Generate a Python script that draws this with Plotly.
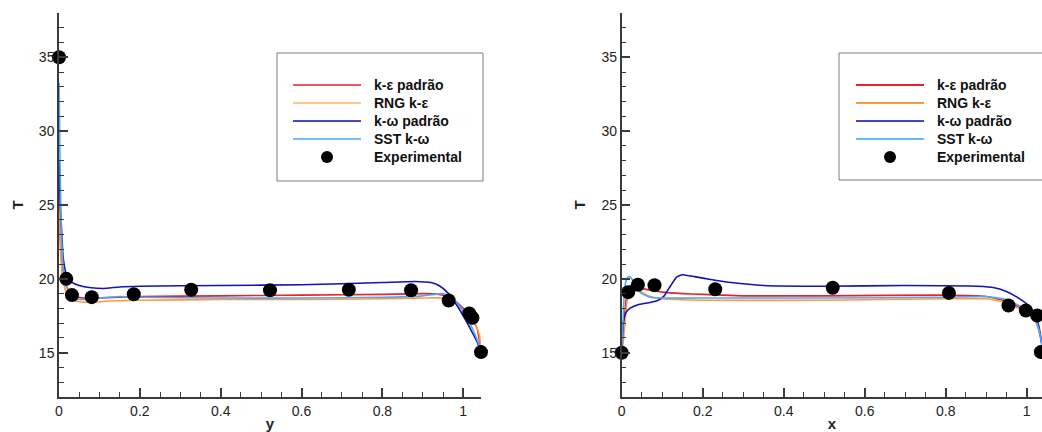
import plotly.graph_objects as go

# ---------------- data: left panel (T vs y) ----------------
ly_ke = [0, 0.003, 0.006, 0.01, 0.015, 0.02, 0.03, 0.04, 0.06, 0.1, 0.2, 0.4, 0.6, 0.8, 0.9, 0.94, 0.96, 0.98, 1.0, 1.02, 1.035, 1.044]
lT_ke = [26.0, 23.0, 21.2, 20.2, 19.7, 19.4, 19.0, 18.8, 18.7, 18.7, 18.8, 18.85, 18.9, 18.95, 19.0, 18.95, 18.8, 18.5, 18.0, 17.4, 16.6, 15.0]

ly_rng = [0, 0.003, 0.006, 0.01, 0.015, 0.02, 0.03, 0.05, 0.08, 0.12, 0.2, 0.4, 0.6, 0.8, 0.9, 0.95, 0.97, 0.99, 1.01, 1.03, 1.04, 1.044]
lT_rng = [26.3, 22.5, 21.0, 20.0, 19.3, 19.0, 18.6, 18.45, 18.4, 18.5, 18.55, 18.6, 18.6, 18.65, 18.7, 18.7, 18.5, 18.1, 17.6, 16.9, 16.2, 15.0]

ly_kw = [0, 0.002, 0.004, 0.006, 0.01, 0.015, 0.02, 0.03, 0.05, 0.08, 0.11, 0.15, 0.2, 0.4, 0.6, 0.8, 0.88, 0.92, 0.94, 0.96, 0.98, 1.0, 1.02, 1.035, 1.044]
lT_kw = [28.0, 26.0, 24.5, 23.5, 21.5, 20.6, 20.1, 19.8, 19.55, 19.4, 19.35, 19.45, 19.5, 19.55, 19.6, 19.75, 19.82, 19.75, 19.55, 19.1, 18.4, 17.5, 16.5, 15.7, 15.0]

ly_sst = [0, 0.002, 0.004, 0.006, 0.01, 0.015, 0.02, 0.03, 0.04, 0.06, 0.1, 0.15, 0.2, 0.4, 0.6, 0.8, 0.9, 0.95, 0.97, 0.99, 1.01, 1.025, 1.038, 1.044]
lT_sst = [33.3, 29.0, 25.5, 23.0, 21.0, 19.9, 19.4, 18.9, 18.65, 18.6, 18.7, 18.8, 18.75, 18.7, 18.7, 18.75, 18.85, 19.0, 18.8, 18.2, 17.3, 16.5, 15.6, 15.0]

ly_exp = [0, 0.018, 0.032, 0.081, 0.185, 0.327, 0.522, 0.717, 0.871, 0.964, 1.015, 1.023, 1.044]
lT_exp = [35.0, 20.0, 18.9, 18.76, 18.96, 19.26, 19.23, 19.26, 19.23, 18.53, 17.66, 17.36, 15.04]

# ---------------- data: right panel (T vs x) ----------------
rx_ke = [0, 0.004, 0.008, 0.012, 0.02, 0.03, 0.05, 0.08, 0.1, 0.15, 0.2, 0.3, 0.5, 0.8, 0.9, 0.95, 0.98, 1.0, 1.02, 1.03, 1.038]
rT_ke = [15.0, 16.5, 17.8, 18.8, 19.5, 19.6, 19.35, 19.2, 19.1, 19.0, 18.95, 18.85, 18.85, 18.9, 18.8, 18.5, 18.1, 17.8, 17.3, 16.6, 15.5]

rx_rng = [0, 0.004, 0.008, 0.012, 0.02, 0.03, 0.05, 0.07, 0.1, 0.2, 0.5, 0.8, 0.9, 0.95, 0.98, 1.0, 1.02, 1.03, 1.038]
rT_rng = [15.0, 15.8, 17.0, 18.2, 19.3, 19.5, 19.1, 18.8, 18.65, 18.55, 18.55, 18.65, 18.65, 18.4, 18.0, 17.7, 17.2, 16.5, 15.5]

rx_kw = [0, 0.002, 0.005, 0.01, 0.02, 0.04, 0.07, 0.09, 0.105, 0.12, 0.135, 0.15, 0.18, 0.22, 0.27, 0.35, 0.5, 0.7, 0.88, 0.92, 0.95, 0.98, 1.0, 1.02, 1.03, 1.038]
rT_kw = [15.0, 16.2, 17.2, 17.7, 18.0, 18.25, 18.4, 18.55, 18.85, 19.5, 20.1, 20.28, 20.15, 19.95, 19.75, 19.55, 19.5, 19.55, 19.5, 19.4, 19.15, 18.7, 18.3, 17.6, 16.8, 15.5]

rx_sst = [0, 0.003, 0.006, 0.01, 0.015, 0.02, 0.03, 0.04, 0.05, 0.07, 0.1, 0.2, 0.5, 0.8, 0.9, 0.95, 0.98, 1.0, 1.02, 1.03, 1.038]
rT_sst = [15.0, 17.0, 18.8, 19.8, 20.1, 20.15, 19.8, 19.3, 19.0, 18.75, 18.7, 18.7, 18.7, 18.75, 18.8, 18.6, 18.2, 17.9, 17.3, 16.6, 15.5]

rx_exp = [0, 0.016, 0.04, 0.081, 0.231, 0.521, 0.808, 0.955, 0.998, 1.026, 1.035]
rT_exp = [15.0, 19.1, 19.6, 19.57, 19.3, 19.4, 19.05, 18.2, 17.86, 17.52, 15.04]

series_names = ["k-ε padrão", "RNG k-ε", "k-ω padrão", "SST k-ω", "Experimental"]
series_colors = ["#e4232b", "#ff9a3c", "#1414b0", "#4aa8ff"]
left_legend_colors = ["#e4232b", "#ffb469", "#0c0ca8", "#4aa8ff"]
right_legend_colors = ["#e4232b", "#ff9a3c", "#4646c4", "#66b8ff"]

W, H = 1042, 432
ML, MR, MT, MB = 59, 0, 13, 35
PW, PH = W - ML - MR, H - MT - MB


def px(xp):
    return (xp - ML) / PW


def py(yp):
    return (H - MB - yp) / PH


fig = go.Figure()

left_lines = [(ly_ke, lT_ke), (ly_rng, lT_rng), (ly_kw, lT_kw), (ly_sst, lT_sst)]
right_lines = [(rx_ke, rT_ke), (rx_rng, rT_rng), (rx_kw, rT_kw), (rx_sst, rT_sst)]

for (xs, ys), c, n in zip(left_lines, series_colors, series_names):
    fig.add_trace(go.Scatter(x=xs, y=ys, mode="lines", name=n, showlegend=False,
                             line=dict(color=c, width=1.6, shape="spline", smoothing=0.4),
                             xaxis="x", yaxis="y"))
fig.add_trace(go.Scatter(x=ly_exp, y=lT_exp, mode="markers", name="Experimental", showlegend=False,
                         marker=dict(color="black", size=14), cliponaxis=False,
                         xaxis="x", yaxis="y"))

for (xs, ys), c, n in zip(right_lines, series_colors, series_names):
    fig.add_trace(go.Scatter(x=xs, y=ys, mode="lines", name=n, showlegend=False,
                             line=dict(color=c, width=1.6, shape="spline", smoothing=0.4),
                             xaxis="x2", yaxis="y2"))
fig.add_trace(go.Scatter(x=rx_exp, y=rT_exp, mode="markers", name="Experimental", showlegend=False,
                         marker=dict(color="black", size=14), cliponaxis=False,
                         xaxis="x2", yaxis="y2"))

axis_color = "#3a3a3a"
tick_font = dict(family="Liberation Sans, Arial, sans-serif", size=14, color="#222222")
title_font = dict(family="Liberation Sans, Arial, sans-serif", size=15, color="#222222", weight="bold")


def xax(domain, rng, title):
    return dict(domain=domain, range=rng, tickmode="linear", tick0=0, dtick=0.2,
                ticks="inside", ticklen=9, tickwidth=1.5, tickcolor=axis_color,
                minor=dict(ticks="inside", dtick=0.05, ticklen=5, tickwidth=1.2, tickcolor=axis_color, showgrid=False),
                showline=True, linecolor=axis_color, linewidth=1.5,
                showgrid=False, zeroline=False, tickfont=tick_font,
                title=dict(text=title, font=title_font, standoff=2))


def yax(anchor, title):
    return dict(domain=[0, 1], range=[12, 38], anchor=anchor, tickmode="linear", tick0=0, dtick=5,
                ticks="inside", ticklen=9, tickwidth=1.5, tickcolor=axis_color,
                minor=dict(ticks="inside", dtick=1, ticklen=5, tickwidth=1.2, tickcolor=axis_color, showgrid=False),
                showline=True, linecolor=axis_color, linewidth=1.5,
                showgrid=False, zeroline=False, tickfont=tick_font,
                title=dict(text=title, font=title_font, standoff=12))


left_x_end = (481 - ML) / PW
right_x_start = (621.7 - ML) / PW

fig.update_layout(
    width=W, height=H,
    margin=dict(l=ML, r=MR, t=MT, b=MB),
    paper_bgcolor="white", plot_bgcolor="white",
    showlegend=False,
    xaxis=xax([0, left_x_end], [0, 1.044], "y") | dict(anchor="y"),
    yaxis=yax("x", "T"),
    xaxis2=xax([right_x_start, 1], [0, 1.0378], "x") | dict(anchor="y2"),
    yaxis2=yax("x2", "T"),
)

# ---------------- legend boxes (drawn as layout decoration) ----------------
shapes = []
annotations = []
row_y = [85, 103, 121, 139, 157]
legend_font = dict(family="Liberation Sans, Arial, sans-serif", size=14, color="#111111", weight="bold")

for box, line_x, text_x, cols, lw in [
    ((277, 483, 53, 181), (293, 361), 372, left_legend_colors, 1.6),
    ((839, 1046, 53, 180), (856, 924), 935, right_legend_colors, 2.2),
]:
    shapes.append(dict(type="rect", xref="paper", yref="paper",
                       x0=px(box[0]), x1=px(box[1]), y0=py(box[3]), y1=py(box[2]),
                       line=dict(color="#7a7a7a", width=1), fillcolor="white", layer="above"))
    for i in range(4):
        shapes.append(dict(type="line", xref="paper", yref="paper",
                           x0=px(line_x[0]), x1=px(line_x[1]), y0=py(row_y[i]), y1=py(row_y[i]),
                           line=dict(color=cols[i], width=lw), layer="above"))
    cx = (line_x[0] + line_x[1]) / 2
    shapes.append(dict(type="circle", xref="paper", yref="paper",
                       x0=px(cx - 6), x1=px(cx + 6), y0=py(row_y[4] + 6), y1=py(row_y[4] - 6),
                       fillcolor="black", line=dict(color="black", width=0), layer="above"))
    for i, n in enumerate(series_names):
        annotations.append(dict(xref="paper", yref="paper", x=px(text_x), y=py(row_y[i]),
                                text=n, showarrow=False, xanchor="left", yanchor="middle",
                                font=legend_font))

fig.update_layout(shapes=shapes, annotations=annotations)

fig.write_html("out.html")
